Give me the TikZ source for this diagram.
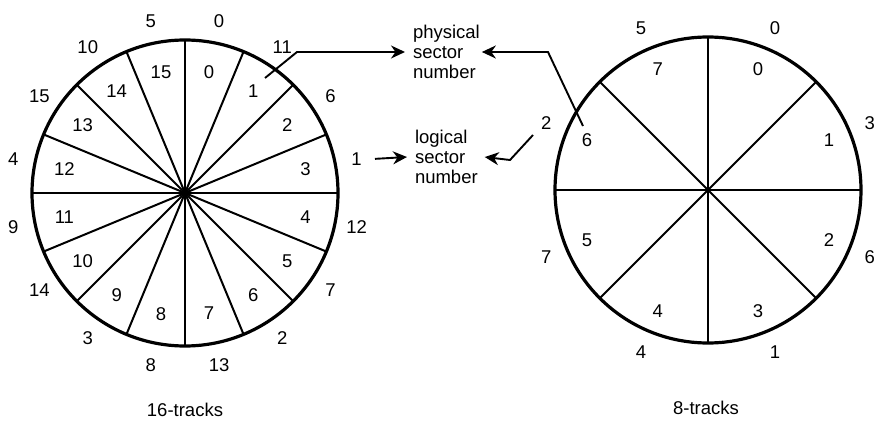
\documentclass[tikz,border=0pt]{standalone}
\usepackage{fontspec}
\setmainfont{Liberation Sans}
\usetikzlibrary{arrows.meta,calc}
\begin{document}
\begin{tikzpicture}[x=1pt,y=-1pt,
  lbl/.style={font=\fontsize{18.5}{20}\selectfont, inner sep=1pt},
  rim/.style={line width=3.2pt},
  spoke/.style={line width=2pt},
  conn/.style={line width=1.9pt, -{Stealth[length=14pt,width=13pt,inset=4.5pt]}},
  txt/.style={font=\fontsize{18.5}{20}\selectfont, align=left, inner sep=0pt, outer sep=0pt}]
\useasboundingbox (0,0) rectangle (887,422);
\coordinate (L) at (185,193);
\coordinate (R) at (708,190);
% 16-sector disk
\begin{scope}[shift={(L)}, y=1pt]
  \foreach \a in {0,22.5,...,337.5} \draw[spoke] (0,0) -- (\a:153);
  \draw[rim] (0,0) circle[radius=153];
  \foreach \q [count=\i from 0] in {0,11,6,1,12,7,2,13,8,3,14,9,4,15,10,5} {
    \pgfmathsetmacro{\ang}{78.75-22.5*\i}
    \node[lbl] (Lp\i) at (\ang:123) {\i};
    \node[lbl] (Lq\i) at (\ang:175) {\q};
  }
\end{scope}
% 8-sector disk
\begin{scope}[shift={(R)}, y=1pt]
  \foreach \a in {0,45,...,315} \draw[spoke] (0,0) -- (\a:153);
  \draw[rim] (0,0) circle[radius=153];
  \foreach \q [count=\i from 0] in {0,3,6,1,4,7,2,5} {
    \pgfmathsetmacro{\ang}{67.5-45*\i}
    \node[lbl] (Rp\i) at (\ang:131) {\i};
    \node[lbl] (Rq\i) at (\ang:175) {\q};
  }
\end{scope}
% legend texts
\node[txt, anchor=west] (phys) at (413,52) {physical\\sector\\number};
\node[txt, anchor=west] (logi) at (415,157) {logical\\sector\\number};
% connectors
\coordinate (s1) at (265,78);
\coordinate (s2) at (583,126);
\coordinate (s3) at (533,135);
\draw[conn] (s1) -- ++(32,-26) -- ([xshift=-8pt]phys.west);
\draw[conn] (s2) -- ++(-35,-74) -- ([xshift=2pt]phys.east);
\draw[conn] ([xshift=12pt]Lq3.east) -- ([xshift=-8pt]logi.west);
\draw[conn] (s3) -- ++(-23,25) -- ([xshift=7pt]logi.east);
% captions
\node[lbl] (capL) at (185,410) {16-tracks};
\node[lbl] (capR) at (706,408) {8-tracks};
\end{tikzpicture}
\end{document}
